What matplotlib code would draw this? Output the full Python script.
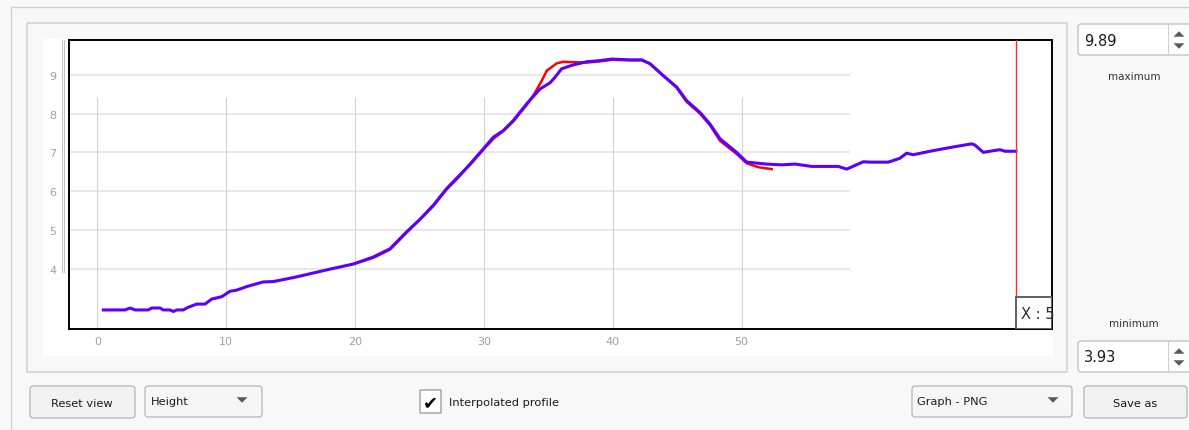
import matplotlib.pyplot as plt
import matplotlib.transforms as mtransforms
from matplotlib.patches import FancyBboxPatch, Rectangle, Polygon

W, H = 1189, 431

# profile along the line: distance vs height
blue_x = [0.47, 2.15, 2.54, 2.93, 3.96, 4.22, 4.87, 5.12, 5.64, 5.90, 6.16, 6.67,
          7.06, 7.71, 8.36, 8.88, 9.65, 10.30, 10.82, 11.59, 12.88, 13.66, 14.43,
          15.47, 16.76, 18.06, 19.86, 21.42, 22.71, 24.01, 25.04, 26.07, 27.11,
          27.89, 28.92, 29.95, 30.73, 31.50, 32.28, 33.32, 34.35, 35.13, 35.51,
          36.03, 36.93, 37.97, 39.00, 39.91, 41.33, 42.24, 42.89, 43.92, 44.96,
          45.73, 46.76, 47.54, 48.32, 49.61, 50.39, 51.94, 53.10, 54.14, 55.43,
          57.50, 58.15, 59.44, 59.96, 61.38, 62.28, 62.80, 63.31, 64.61, 65.91,
          66.94, 67.85, 68.10, 68.75, 69.27, 70.04, 70.43, 71.28]
blue_y = [2.95, 2.95, 3.00, 2.95, 2.95, 3.00, 3.00, 2.95, 2.95, 2.91, 2.95, 2.95,
          3.02, 3.10, 3.10, 3.23, 3.29, 3.43, 3.46, 3.55, 3.67, 3.68, 3.73,
          3.80, 3.90, 4.00, 4.13, 4.30, 4.51, 4.95, 5.28, 5.63, 6.06,
          6.32, 6.70, 7.09, 7.39, 7.56, 7.82, 8.25, 8.63, 8.79, 8.93,
          9.15, 9.25, 9.33, 9.36, 9.40, 9.38, 9.38, 9.28, 8.97, 8.68,
          8.33, 8.03, 7.73, 7.35, 7.00, 6.75, 6.70, 6.68, 6.70, 6.64,
          6.64, 6.57, 6.76, 6.75, 6.75, 6.85, 6.98, 6.94, 7.03, 7.11,
          7.17, 7.22, 7.19, 7.00, 7.03, 7.07, 7.03, 7.03]

red_x = [19.86, 21.42, 22.71, 24.01, 25.04, 26.07, 27.11, 27.89, 28.92, 29.95,
         30.73, 31.50, 32.28, 33.32, 33.90, 34.50, 34.87, 35.65, 36.16, 36.93,
         37.97, 39.00, 39.91, 41.33, 42.24, 42.89, 43.92, 44.96, 45.73, 46.76,
         47.54, 48.32, 49.61, 50.39, 51.29, 52.33]
red_y = [4.13, 4.32, 4.53, 4.97, 5.28, 5.65, 6.08, 6.35, 6.68, 7.07,
         7.35, 7.55, 7.80, 8.22, 8.50, 8.85, 9.10, 9.29, 9.33, 9.32,
         9.31, 9.34, 9.38, 9.37, 9.37, 9.28, 8.98, 8.66, 8.30, 8.00,
         7.70, 7.30, 6.96, 6.72, 6.62, 6.57]

x_ticks = [0, 10, 20, 30, 40, 50]
y_ticks = [4, 5, 6, 7, 8, 9]
y_max = 9.89
y_min = 3.93
cursor_x = 71.28

BG = '#f8f8f8'
FS = 8.2
fig = plt.figure(figsize=(W / 100, H / 100), dpi=100, facecolor=BG)

# pixel-space layer for the widget chrome
ui = fig.add_axes([0, 0, 1, 1], zorder=0)
ui.set_xlim(0, W)
ui.set_ylim(H, 0)
ui.axis('off')


def box(x0, y0, x1, y1, fc, ec, r=0, lw=0.8):
    p = FancyBboxPatch((x0, y0), x1 - x0, y1 - y0,
                       boxstyle=f"round,pad=0,rounding_size={r}",
                       fc=fc, ec=ec, lw=lw)
    ui.add_patch(p)
    return p


def arrow(cx, cy, up=False, s=5.5, color='#5a5a5a'):
    d = -1 if up else 1
    ui.add_patch(Polygon([(cx - s, cy - d * s / 2), (cx + s, cy - d * s / 2), (cx, cy + d * s / 2)],
                         closed=True, fc=color, ec='none'))


ui.plot([11, W], [8, 8], color='#d2d2d2', lw=1)
ui.plot([11, 11], [8, H], color='#d2d2d2', lw=1)
box(27, 24, 1067, 373, BG, '#c8c8c8', lw=0.9)
box(43, 40, 1053, 357, 'white', 'none')

# spin boxes
for top, val in [(25, '9.89'), (342, '3.93')]:
    box(1078, top, 1195, top + 31, 'white', '#b4b4b4', r=3)
    ui.plot([1168, 1168], [top, top + 31], color='#d0d0d0', lw=0.8)
    arrow(1179, top + 10, up=True)
    arrow(1179, top + 22)
    ui.text(1084, top + 16, val, fontsize=10.5, color='#1a1a1a', va='center', ha='left')
ui.text(1134, 77, 'maximum', fontsize=7.5, color='#333333', ha='center', va='center')
ui.text(1134, 324, 'minimum', fontsize=7.5, color='#333333', ha='center', va='center')

# bottom controls
box(30, 387, 135, 419, '#f2f2f2', '#adadad', r=3)
ui.text(82, 404, 'Reset view', fontsize=FS, color='#1a1a1a', ha='center', va='center')
box(145, 387, 262, 418, '#f6f6f6', '#adadad', r=3)
ui.text(151, 402, 'Height', fontsize=FS, color='#1a1a1a', ha='left', va='center')
arrow(242, 401)
box(420, 391, 441, 414, 'white', '#8a8a8a')
ui.text(430.5, 403, '\u2714', fontsize=13, color='black', ha='center', va='center')
ui.text(449, 403, 'Interpolated profile', fontsize=FS, color='#1a1a1a', ha='left', va='center')
box(912, 387, 1072, 418, '#f6f6f6', '#adadad', r=3)
ui.text(917, 402, 'Graph - PNG', fontsize=FS, color='#1a1a1a', ha='left', va='center')
arrow(1053, 401)
box(1084, 387, 1187, 419, '#f2f2f2', '#adadad', r=3)
ui.text(1135, 404, 'Save as', fontsize=FS, color='#1a1a1a', ha='center', va='center')

# the profile plot
ax = fig.add_axes([69 / W, 1 - 330 / H, (1052 - 69) / W, (330 - 41) / H], zorder=1)
ax.set_facecolor('white')
ax.set_xlim(-2.196, 74.08)
ax.set_ylim(2.46, y_max)

ax.hlines(y_ticks, -2.2, 58.4, color='#e8e8e8', lw=1.5, zorder=1)
ax.vlines(x_ticks, 2.46, 8.42, color='#d2d2d2', lw=0.8, zorder=1)

ax.plot(red_x, red_y, color='#ff0000', lw=1.8, zorder=3)
ax.plot(blue_x, blue_y, color='#5a00ff', lw=2.2, zorder=4)
ax.axvline(cursor_x, color='#ff2a2a', lw=1.0, zorder=5)

ax.set_xticks(x_ticks)
ax.set_yticks(y_ticks)
ax.tick_params(length=0, labelcolor='#a0a0a0', labelsize=8)
ax.tick_params(axis='y', pad=9)
ax.tick_params(axis='x', pad=5)
for s in ax.spines.values():
    s.set_color('black')
    s.set_linewidth(1.4)

# y scale backbone drawn beside the frame
trans = mtransforms.blended_transform_factory(ax.transAxes, ax.transData)
for off in (-5, -7):
    ax.plot([off / 983] * 2, [y_min, y_max], transform=trans, clip_on=False,
            color='#c4c4c4', lw=0.8)

# cursor readout box
rect = Rectangle((1016, 298), 36, 32, fc='white', ec='#606060', lw=1.4,
                 transform=ui.transData, zorder=6)
ax.add_patch(rect)
t = ax.text(1021, 315, 'X : 5', transform=ui.transData, fontsize=10.5,
            color='#2a2a3a', va='center', ha='left', zorder=7)
t.set_clip_path(rect)

fig.savefig('out.png', dpi=100, facecolor=BG)
